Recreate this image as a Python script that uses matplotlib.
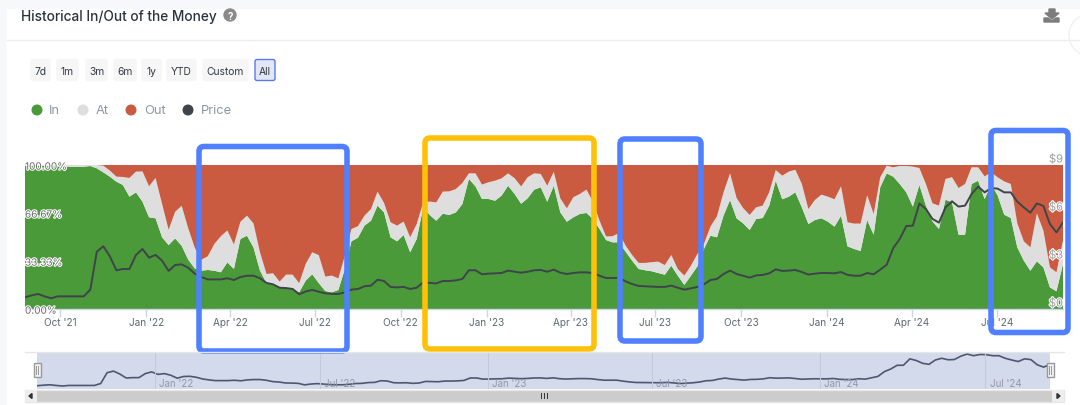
import matplotlib
matplotlib.use("Agg")
import matplotlib.pyplot as plt
import matplotlib.patheffects as pe
from matplotlib.patches import FancyBboxPatch, Rectangle, Circle, Polygon
import pandas as pd

W, H = 1080, 406

plt.rcParams['font.family'] = ['Inter', 'DejaVu Sans']

in_pct = [
    99.5, 99.5, 99.3, 99.3, 99.1, 99.1, 99.1, 98.8, 98.8, 98.8,
    99.3, 97.7, 94.9, 91.9, 88.4, 86.1, 78.0, 81.0, 74.5, 63.7,
    63.0, 49.8, 44.4, 49.0, 43.9, 34.3, 28.2, 26.6, 27.1, 26.6,
    25.5, 32.4, 27.8, 48.6, 50.9, 42.8, 26.6, 18.0, 17.4, 15.5,
    14.4, 13.9, 11.6, 19.7, 24.1, 18.0, 12.5, 11.6, 13.2, 27.8,
    47.0, 49.5, 57.9, 61.3, 71.8, 67.1, 49.8, 47.0, 51.4, 39.4,
    48.6, 70.6, 65.3, 61.3, 66.2, 65.3, 67.1, 72.9, 90.3, 85.2,
    76.4, 76.4, 75.2, 78.7, 85.6, 79.9, 73.1, 76.9, 82.9, 84.5,
    74.5, 85.6, 67.1, 60.6, 63.7, 66.0, 66.7, 62.5, 55.6, 47.9,
    46.3, 46.3, 39.8, 33.6, 27.8, 26.9, 26.2, 25.0, 23.8, 30.1,
    23.1, 16.7, 23.1, 29.6, 41.7, 50.9, 49.8, 64.8, 75.7, 63.0,
    59.5, 54.9, 62.5, 63.2, 71.8, 89.1, 76.2, 78.0, 81.0, 70.6,
    59.0, 61.8, 63.0, 60.6, 57.2, 64.8, 43.5, 41.7, 40.3, 61.8,
    51.6, 84.5, 94.2, 91.9, 86.8, 81.0, 71.1, 86.1, 71.8, 60.9,
    55.6, 75.9, 74.1, 51.6, 51.6, 86.8, 89.1, 76.4, 86.8, 78.7,
    65.5, 63.2, 42.8, 33.6, 26.6, 33.1, 28.9, 15.0, 12.3, 31.3,
]
at_pct = [
    0.5, 0.5, 0.7, 0.7, 0.9, 0.9, 0.9, 1.2, 1.2, 1.2,
    0.7, 2.3, 4.6, 4.2, 3.5, 5.6, 13.0, 14.4, 21.0, 21.5,
    28.0, 23.1, 10.6, 18.5, 27.8, 21.8, 14.4, 7.6, 9.5, 18.5,
    25.0, 22.1, 17.0, 12.0, 13.9, 16.6, 12.7, 6.3, 7.4, 3.5,
    9.5, 9.9, 6.3, 11.6, 15.3, 19.4, 10.0, 11.6, 8.0, 9.3,
    8.5, 8.0, 6.9, 8.1, 9.7, 6.5, 10.4, 10.9, 9.3, 10.4,
    10.4, 3.5, 9.3, 12.7, 15.3, 16.4, 16.2, 14.6, 3.9, 9.0,
    10.0, 11.6, 13.9, 12.0, 8.6, 10.9, 12.0, 14.6, 11.3, 9.3,
    11.1, 9.7, 9.7, 9.3, 13.9, 13.9, 16.2, 12.0, 5.8, 2.5,
    4.2, 6.5, 4.2, 3.9, 4.2, 5.1, 6.3, 7.9, 6.7, 7.4,
    4.6, 6.5, 6.9, 8.6, 3.5, 6.3, 14.6, 16.2, 18.5, 14.1,
    10.6, 10.4, 8.1, 8.6, 9.3, 7.4, 16.4, 17.4, 15.7, 16.2,
    10.4, 13.9, 16.4, 17.4, 19.0, 20.4, 16.7, 17.6, 19.0, 17.1,
    14.4, 6.9, 5.3, 6.5, 12.5, 18.3, 27.8, 11.8, 15.0, 12.5,
    16.2, 14.4, 17.4, 32.4, 35.2, 11.6, 9.3, 15.7, 8.1, 12.7,
    23.1, 23.6, 16.7, 13.4, 16.2, 33.3, 25.5, 13.9, 13.2, 16.2,
]
price = [
    0.73, 0.85, 0.94, 0.79, 0.67, 0.79, 0.79, 0.79, 0.79, 0.79,
    1.21, 3.58, 3.92, 3.29, 2.42, 2.50, 2.50, 3.38, 3.75, 3.21,
    3.38, 3.02, 2.38, 2.75, 2.79, 2.58, 2.21, 2.00, 1.85, 1.85,
    1.85, 1.92, 1.81, 2.00, 2.08, 2.08, 1.92, 1.63, 1.54, 1.33,
    1.31, 1.25, 0.92, 1.10, 1.19, 1.08, 0.98, 0.94, 0.94, 1.04,
    1.21, 1.25, 1.42, 1.46, 1.83, 1.75, 1.38, 1.35, 1.38, 1.25,
    1.33, 1.67, 1.63, 1.60, 1.75, 1.75, 1.79, 1.88, 2.42, 2.42,
    2.17, 2.21, 2.23, 2.25, 2.40, 2.33, 2.27, 2.33, 2.42, 2.44,
    2.33, 2.46, 2.27, 2.19, 2.25, 2.29, 2.29, 2.25, 2.08, 1.94,
    1.94, 1.94, 1.73, 1.56, 1.44, 1.42, 1.40, 1.38, 1.38, 1.46,
    1.33, 1.21, 1.29, 1.38, 1.54, 1.81, 1.88, 2.19, 2.40, 2.19,
    2.08, 1.96, 2.10, 2.13, 2.23, 2.48, 2.38, 2.40, 2.44, 2.31,
    2.15, 2.21, 2.25, 2.25, 2.23, 2.31, 2.13, 2.08, 2.08, 2.25,
    2.17, 2.46, 2.77, 3.81, 4.38, 5.19, 5.21, 6.60, 6.25, 5.63,
    5.40, 6.35, 6.73, 6.40, 6.46, 7.19, 7.65, 7.29, 7.56, 7.52,
    7.29, 7.29, 6.71, 6.35, 6.02, 6.60, 6.44, 5.31, 4.79, 5.40,
]
out_pct = [100 - a - b for a, b in zip(in_pct, at_pct)]
dates = pd.date_range('2021-08-24', periods=len(price), freq='7D')

tick_dates = pd.to_datetime(['2021-10-01', '2022-01-01', '2022-04-01', '2022-07-01',
                             '2022-10-01', '2023-01-01', '2023-04-01', '2023-07-01',
                             '2023-10-01', '2024-01-01', '2024-04-01', '2024-07-01'])
tick_labels = ["Oct '21", "Jan '22", "Apr '22", "Jul '22", "Oct '22", "Jan '23",
               "Apr '23", "Jul '23", "Oct '23", "Jan '24", "Apr '24", "Jul '24"]
nav_dates = pd.to_datetime(['2022-01-01', '2022-07-01', '2023-01-01',
                            '2023-07-01', '2024-01-01', '2024-07-01'])
nav_labels = ["Jan '22", "Jul '22", "Jan '23", "Jul '23", "Jan '24", "Jul '24"]
left_ticks = [0, 33.33, 66.67, 100]
left_labels = ['0.00%', '33.33%', '66.67%', '100.00%']
right_labels = ['$0', '$3', '$6', '$9']
buttons = ['7d', '1m', '3m', '6m', '1y', 'YTD', 'Custom', 'All']
legend_names = ['In', 'At', 'Out', 'Price']

GREEN, GREY, RED, DARK = '#4a9a3a', '#dedede', '#cb5b40', '#3f434a'
BLUE, YELLOW = '#4f80ff', '#ffc107'


def px_axes(fig, x0, y0, x1, y1):
    # axes placed by pixel box, y counted from the top
    return fig.add_axes([x0 / W, 1 - y1 / H, (x1 - x0) / W, (y1 - y0) / H])


fig = plt.figure(figsize=(W / 100, H / 100), dpi=100, facecolor='white')

# page and card background, pixel coordinates
bg = fig.add_axes([0, 0, 1, 1], zorder=0)
bg.set_xlim(0, W)
bg.set_ylim(H, 0)
bg.axis('off')
bg.add_patch(Rectangle((0, 0), W, H, color='#f7f8fc'))
bg.add_patch(Rectangle((7, 10), W - 7, H - 10, color='white'))
bg.plot([7, W], [41, 41], color='#eeeeee', lw=1)
bg.text(21, 17, 'Historical In/Out of the Money', fontsize=9.85, color='#2b3240',
        va='center', ha='left', fontweight='medium')
bg.add_patch(Circle((230, 16), 6, color='#8a8a8a'))
bg.text(230, 16.5, '?', fontsize=7, color='white', ha='center', va='center', fontweight='bold')

# download icon
bg.add_patch(Polygon([[1049, 10], [1055, 10], [1055, 14], [1059, 14], [1052, 20], [1045, 14], [1049, 14]],
                     color='#7c7c7c'))
bg.add_patch(Polygon([[1044, 19], [1048, 19], [1052, 22], [1056, 19], [1059, 19], [1059, 23], [1044, 23]],
                     color='#7c7c7c'))
bg.add_patch(Circle((1090, 36), 21, facecolor='white', edgecolor='#f0f0f0', lw=1))

# range buttons
button_x = [(30, 51), (56, 79), (85, 108), (113, 137), (141, 162), (166, 197), (202, 249), (254, 276)]
for name, (x0, x1) in zip(buttons, button_x):
    selected = name == 'All'
    bg.add_patch(FancyBboxPatch((x0 + 1, 60.5), x1 - x0 - 2, 21, boxstyle='round,pad=0,rounding_size=2',
                                facecolor='#e3e7f3' if selected else '#f6f6f6',
                                edgecolor='#5b78f0' if selected else '#f6f6f6', lw=1))
    bg.text((x0 + x1) / 2, 72, name, fontsize=7.4, color='#333a45', ha='center', va='center')

# legend
legend_x = [(37, 49), (83, 96), (131, 144), (188, 201)]
for name, color, (dot, txt) in zip(legend_names, [GREEN, GREY, RED, DARK], legend_x):
    bg.add_patch(Circle((dot, 111), 4.8, color=color))
    bg.text(txt, 111, name, fontsize=9.3, color='#8d97a6', ha='left', va='center')

# main chart
ax = px_axes(fig, 25, 166, 1063, 310)
ax.set_zorder(1)
ax.stackplot(dates, in_pct, at_pct, out_pct, colors=[GREEN, GREY, RED], lw=0)
ax.set_xlim(dates[0], dates[-1])
ax.set_ylim(0, 100)
ax.set_yticks([])
for s in ['top', 'left', 'right']:
    ax.spines[s].set_visible(False)
ax.spines['bottom'].set_color('#ccd6eb')
ax.spines['bottom'].set_linewidth(1)
ax.set_xticks(tick_dates)
ax.set_xticklabels(tick_labels, fontsize=7.2, color='#5f6875')
ax.tick_params(axis='x', length=5.5, width=1, color='#ccd6eb', pad=0.5)

ax2 = ax.twinx()
ax2.plot(dates, price, color=DARK, lw=1.4)
ax2.set_ylim(0, 9)
ax2.set_yticks([])
for s in ax2.spines.values():
    s.set_visible(False)

halo = [pe.withStroke(linewidth=1.5, foreground='white')]
for v, lab in zip(left_ticks, left_labels):
    ax.annotate(lab, (0, v), xycoords=ax.get_yaxis_transform(), xytext=(0, -1.2),
                textcoords='offset points', fontsize=7.2, color='#666666',
                ha='left', va='center', path_effects=halo, zorder=6)
for v, lab in zip(left_ticks, right_labels):
    ax2.annotate(lab, (1, v / 100), xycoords=ax2.transAxes, xytext=(0, 4),
                 textcoords='offset points', fontsize=8, color='#9a9a9a',
                 ha='right', va='center', path_effects=halo, zorder=6, annotation_clip=False)

# navigator
nav = px_axes(fig, 37, 353, 1050, 390)
nav.set_zorder(2)
nav.set_facecolor('#d3daeb')
nav.plot(dates, price, color='#4d5870', lw=1.2)
nav.set_xlim(dates[0], dates[-1])
nav.set_ylim(0.015, 8.1)
nav.set_xticks([])
nav.set_yticks([])
for s in nav.spines.values():
    s.set_visible(False)
for d, lab in zip(nav_dates, nav_labels):
    nav.axvline(d, color='#c3cadb', lw=0.8)
    nav.annotate(lab, (d, 0.015), xytext=(3, 0.5), textcoords='offset points', fontsize=7,
                 color='#9298a8', ha='left', va='bottom')

# overlay: scrollbar, handles and highlight boxes
top = fig.add_axes([0, 0, 1, 1], zorder=5)
top.set_xlim(0, W)
top.set_ylim(H, 0)
top.axis('off')
top.patch.set_alpha(0)
top.plot([25, 1064], [353, 353], color='#e6e6e6', lw=1)
top.add_patch(Rectangle((25, 391), 1039, 12, facecolor='#cccccc', edgecolor='#e6e6e6', lw=1))
top.add_patch(Rectangle((25, 391), 12, 12, facecolor='#eeeeee', edgecolor='none'))
top.add_patch(Rectangle((1052, 391), 12, 12, facecolor='#eeeeee', edgecolor='none'))
top.add_patch(Polygon([[29, 397], [32, 394.5], [32, 399.5]], color='#333333'))
top.add_patch(Polygon([[1060, 397], [1057, 394.5], [1057, 399.5]], color='#333333'))
for hx in (37, 1050):
    top.add_patch(Rectangle((hx - 3.5, 364), 7, 14, facecolor='#f2f2f2', edgecolor='#999999', lw=1))
    top.plot([hx - 1, hx - 1], [367, 375], color='#999999', lw=0.7)
    top.plot([hx + 1, hx + 1], [367, 375], color='#999999', lw=0.7)
for gx in (541, 544, 547):
    top.plot([gx, gx], [394, 399], color='#333333', lw=0.7)

boxes = [(199, 147.5, 347, 352, BLUE), (425, 139, 594, 350, YELLOW),
         (620, 140, 701, 342, BLUE), (991, 131.5, 1068, 333.5, BLUE)]
for x0, y0, x1, y1, color in boxes:
    top.add_patch(FancyBboxPatch((x0, y0), x1 - x0, y1 - y0, boxstyle='round,pad=0,rounding_size=5',
                                 facecolor='none', edgecolor=color, lw=4))

fig.savefig('out.png', dpi=100)
